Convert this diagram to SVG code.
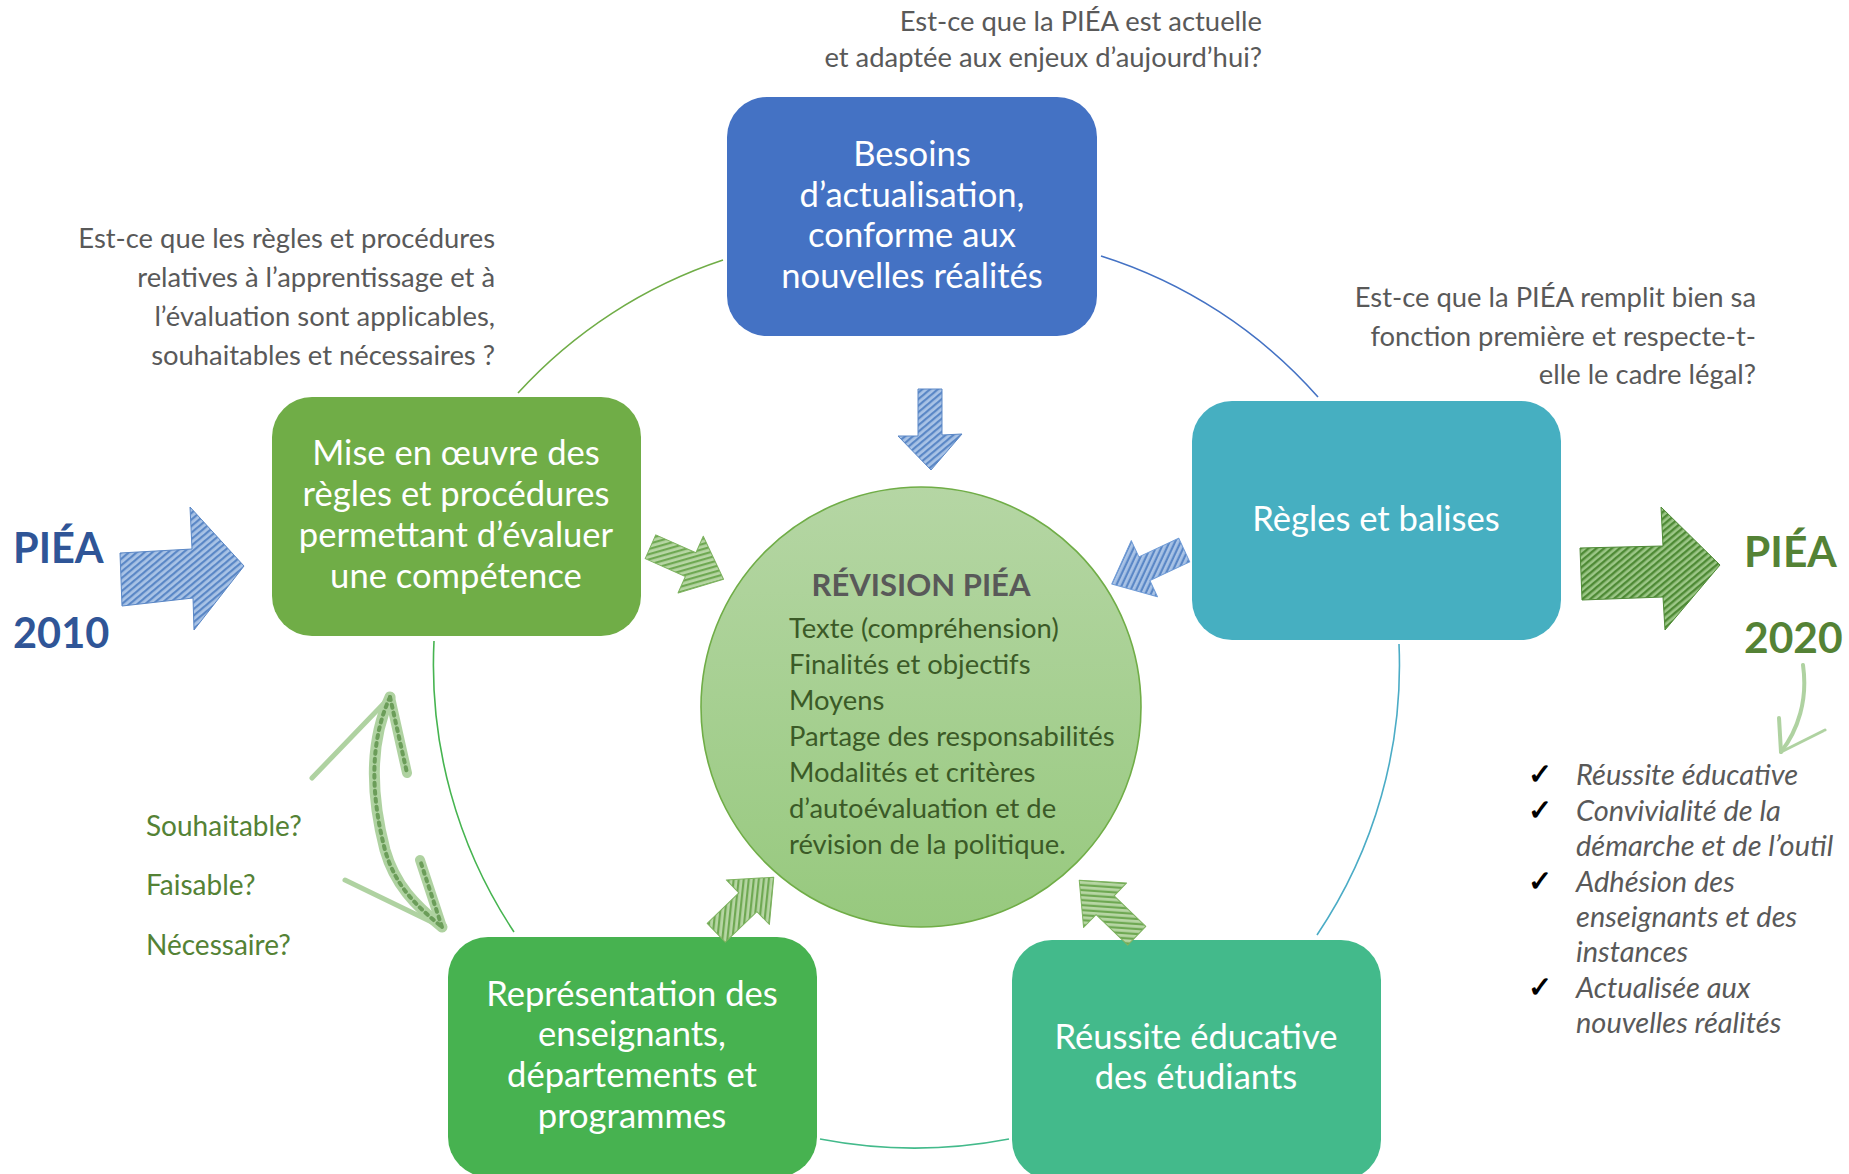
<svg xmlns="http://www.w3.org/2000/svg" width="1849" height="1174" viewBox="0 0 1849 1174">
<defs>
  <linearGradient id="cg" x1="0" y1="0" x2="0" y2="1">
    <stop offset="0" stop-color="#B5D6A4"/>
    <stop offset="1" stop-color="#97C97E"/>
  </linearGradient>
  <pattern id="hb" width="5" height="5" patternUnits="userSpaceOnUse" patternTransform="rotate(50)">
    <rect width="5" height="5" fill="#A9C3E6"/>
    <rect width="2.2" height="5" fill="#5A87C6"/>
  </pattern>
  <pattern id="hg" width="5" height="5" patternUnits="userSpaceOnUse" patternTransform="rotate(50)">
    <rect width="5" height="5" fill="#B7D6A4"/>
    <rect width="2.2" height="5" fill="#6EA852"/>
  </pattern>
  <pattern id="hg2" width="5" height="5" patternUnits="userSpaceOnUse" patternTransform="rotate(50)">
    <rect width="5" height="5" fill="#9CC787"/>
    <rect width="2.4" height="5" fill="#4E8A35"/>
  </pattern>
</defs>
<style>
  text { font-family: Lato, "Open Sans", "Liberation Sans", sans-serif; }
  .box { stroke: none; }
  .bt { fill: #FFFFFF; font-size: 34.6px; text-anchor: middle; }
  .ql { fill: #595959; font-size: 27.4px; text-anchor: end; }
  .lst { fill: #3B5A27; font-size: 27.4px; }
  .chk { fill: #595959; font-size: 29px; font-style: italic; }
  .ring { fill: none; stroke-width: 1.6; }
  .sk { stroke-width: 1; stroke-linejoin: round; }
  .g3 { fill: #548235; font-size: 28px; }
</style>

<g id="connectors">
  <path class="ring" stroke="#70AD47" d="M 723 260 A 483 483 0 0 0 518 393"/>
  <path class="ring" stroke="#4472C4" d="M 1101 256 A 483 483 0 0 1 1318 397"/>
  <path class="ring" stroke="#46B450" d="M 434 641 A 483 483 0 0 0 514 932"/>
  <path class="ring" stroke="#4BACC6" d="M 1399 644 A 483 483 0 0 1 1317 935"/>
  <path class="ring" stroke="#43BA8B" d="M 820 1139 A 500 500 0 0 0 1009 1139"/>
</g>

<g id="node-top">
  <rect class="box" x="727" y="97" width="370" height="239" rx="40" fill="#4472C4"/>
  <text class="bt" x="912" y="166">Besoins</text>
  <text class="bt" x="912" y="207">d’actualisation,</text>
  <text class="bt" x="912" y="247">conforme aux</text>
  <text class="bt" x="912" y="288">nouvelles réalités</text>
</g>

<g id="node-left">
  <rect class="box" x="272" y="397" width="369" height="239" rx="40" fill="#70AD47"/>
  <text class="bt" x="456" y="465">Mise en œuvre des</text>
  <text class="bt" x="456" y="506">règles et procédures</text>
  <text class="bt" x="456" y="547">permettant d’évaluer</text>
  <text class="bt" x="456" y="588">une compétence</text>
</g>

<g id="node-right">
  <rect class="box" x="1192" y="401" width="369" height="239" rx="40" fill="#46AFC1"/>
  <text class="bt" x="1376" y="531">Règles et balises</text>
</g>

<g id="node-bottom-left">
  <rect class="box" x="448" y="937" width="369" height="240" rx="40" fill="#47B250"/>
  <text class="bt" x="632" y="1006">Représentation des</text>
  <text class="bt" x="632" y="1046">enseignants,</text>
  <text class="bt" x="632" y="1087">départements et</text>
  <text class="bt" x="632" y="1128">programmes</text>
</g>

<g id="node-bottom-right">
  <rect class="box" x="1012" y="940" width="369" height="240" rx="40" fill="#43BA8B"/>
  <text class="bt" x="1196" y="1049">Réussite éducative</text>
  <text class="bt" x="1196" y="1089">des étudiants</text>
</g>

<g id="node-center">
  <circle cx="921" cy="707" r="220" fill="url(#cg)" stroke="#70AD47" stroke-width="1.6"/>
  <text x="921" y="596" text-anchor="middle" font-size="31" font-weight="bold" fill="#595959">RÉVISION PIÉA</text>
  <text class="lst" x="789" y="638">Texte (compréhension)</text>
  <text class="lst" x="789" y="674">Finalités et objectifs</text>
  <text class="lst" x="789" y="710">Moyens</text>
  <text class="lst" x="789" y="746">Partage des responsabilités</text>
  <text class="lst" x="789" y="782">Modalités et critères</text>
  <text class="lst" x="789" y="818">d’autoévaluation et de</text>
  <text class="lst" x="789" y="854">révision de la politique.</text>
</g>

<g id="questions">
  <text class="ql" x="1262" y="31">Est-ce que la PIÉA est actuelle</text>
  <text class="ql" x="1262" y="67">et adaptée aux enjeux d’aujourd’hui?</text>
  <text class="ql" x="495" y="248">Est-ce que les règles et procédures</text>
  <text class="ql" x="495" y="287">relatives à l’apprentissage et à</text>
  <text class="ql" x="495" y="326">l’évaluation sont applicables,</text>
  <text class="ql" x="495" y="365">souhaitables et nécessaires ?</text>
  <text class="ql" x="1756" y="307">Est-ce que la PIÉA remplit bien sa</text>
  <text class="ql" x="1756" y="346">fonction première et respecte-t-</text>
  <text class="ql" x="1756" y="384">elle le cadre légal?</text>
</g>

<g id="piea-2010">
  <text x="13" y="563" font-size="41.5" font-weight="bold" fill="#2F5597">PIÉA</text>
  <text x="13" y="648" font-size="41.5" font-weight="bold" fill="#2F5597">2010</text>
</g>
<g id="piea-2020">
  <text x="1744" y="567" font-size="42.5" font-weight="bold" fill="#548235">PIÉA</text>
  <text x="1744" y="653" font-size="42.5" font-weight="bold" fill="#548235">2020</text>
</g>

<g id="criteria">
  <text class="g3" x="146" y="836">Souhaitable?</text>
  <text class="g3" x="146" y="895">Faisable?</text>
  <text class="g3" x="146" y="955">Nécessaire?</text>
</g>

<g id="outcomes">
  <g font-family="DejaVu Sans, sans-serif" font-size="29" font-weight="bold" fill="#000">
    <text x="1528" y="784">✓</text>
    <text x="1528" y="820">✓</text>
    <text x="1528" y="891">✓</text>
    <text x="1528" y="997">✓</text>
  </g>
  <text class="chk" x="1576" y="785">Réussite éducative</text>
  <text class="chk" x="1576" y="821">Convivialité de la</text>
  <text class="chk" x="1576" y="856">démarche et de l’outil</text>
  <text class="chk" x="1576" y="892">Adhésion des</text>
  <text class="chk" x="1576" y="927">enseignants et des</text>
  <text class="chk" x="1576" y="962">instances</text>
  <text class="chk" x="1576" y="998">Actualisée aux</text>
  <text class="chk" x="1576" y="1033">nouvelles réalités</text>
</g>

<g id="sketch-arrows">
  <polygon class="sk" fill="url(#hb)" stroke="#5A87C6" points="120,553 192,549 190,507 244,566 194,630 193,598 122,606"/>
  <polygon class="sk" fill="url(#hg2)" stroke="#4E8A35" points="1580,548 1663,546 1661,507 1720,565 1665,630 1663,597 1582,600"/>
  <polygon class="sk" fill="url(#hb)" stroke="#5A87C6" points="918,389 942,389 942,435 962,434 931,470 898,436 918,436"/>
  <g transform="translate(687,563) rotate(24)">
    <polygon class="sk" fill="url(#hg)" stroke="#7DB25F" points="-40,-13 4,-13 4,-31 40,0 4,31 4,13 -40,13"/>
  </g>
  <g transform="translate(1148,567) rotate(155)">
    <polygon class="sk" fill="url(#hb)" stroke="#6F9BD6" points="-40,-13 4,-13 4,-31 40,0 4,31 4,13 -40,13"/>
  </g>
  <g transform="translate(745,905) rotate(-44)">
    <polygon class="sk" fill="url(#hg)" stroke="#7DB25F" points="-40,-13 4,-13 4,-31 40,0 4,31 4,13 -40,13"/>
  </g>
  <g transform="translate(1108,908) rotate(-136)">
    <polygon class="sk" fill="url(#hg)" stroke="#7DB25F" points="-40,-13 4,-13 4,-31 40,0 4,31 4,13 -40,13"/>
  </g>
  <g fill="none" stroke="#6FAF55" stroke-linecap="round" stroke-linejoin="round" opacity="0.55">
    <path d="M 390 697 C 368 745 372 800 385 850 C 395 885 415 905 442 927" stroke-width="11"/>
    <path d="M 390 697 L 312 778" stroke-width="5"/>
    <path d="M 390 697 L 407 773" stroke-width="10"/>
    <path d="M 442 927 L 345 880" stroke-width="5"/>
    <path d="M 442 927 L 420 860" stroke-width="10"/>
    <path d="M 1803 665 C 1808 700 1798 730 1781 752" stroke-width="4"/>
    <path d="M 1781 752 L 1825 730" stroke-width="3"/>
    <path d="M 1781 752 L 1779 718" stroke-width="4"/>
  </g>
  <g fill="none" stroke="#3F7A2A" stroke-linecap="round" stroke-dasharray="3 5" opacity="0.6">
    <path d="M 390 697 C 368 745 372 800 385 850 C 395 885 415 905 442 927" stroke-width="4"/>
    <path d="M 442 927 L 420 860" stroke-width="4"/>
    <path d="M 390 697 L 407 773" stroke-width="4"/>
  </g>
</g>
</svg>
